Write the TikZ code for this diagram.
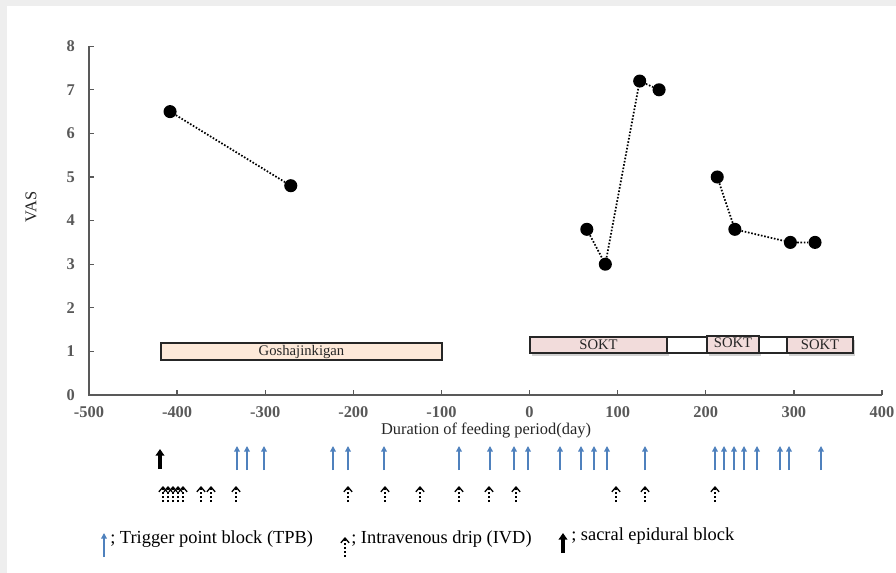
\documentclass[tikz,border=0pt]{standalone}
\usepackage{fontspec}
\setmainfont{Liberation Serif}
\usetikzlibrary{arrows.meta}

\definecolor{axisgray}{HTML}{595959}
\definecolor{tpbblue}{HTML}{4F81BD}
\definecolor{goshafill}{HTML}{FDE9D9}
\definecolor{soktfill}{HTML}{F2DCDB}
\definecolor{framegray}{HTML}{EEEEEE}
\definecolor{textdark}{HTML}{262626}

\begin{document}
\begin{tikzpicture}[x=0.75pt,y=-0.75pt,
  axisline/.style={draw=axisgray, line width=1.4pt},
  tickmark/.style={draw=axisgray, line width=1pt},
  ticklabel/.style={font=\fontsize{12.3}{14}\bfseries\selectfont, text=axisgray, inner sep=0pt},
  axistitle/.style={font=\fontsize{12.3}{14}\selectfont, text=textdark, inner sep=0pt},
  datapt/.style={circle, fill=black, minimum size=9.8pt, inner sep=0pt},
  trend/.style={draw=black, line width=1.3pt, dash pattern=on 1.2pt off 1.3pt},
  barbox/.style={draw=black!85, line width=0.8pt},
  barlabel/.style={font=\fontsize{11}{13}\selectfont, text=textdark, inner sep=0pt},
  barshadow/.style={fill=black, opacity=0.18},
  tpb/.style={draw=tpbblue, line width=1pt, -{Triangle[width=4.2pt,length=4.2pt]}},
  ivd/.style={draw=black, line width=0.95pt, dash pattern=on 1.8pt off 1.2pt,
              -{Straight Barb[width=6.2pt,length=3.6pt,line width=1pt]}},
  sacral/.style={draw=black, line width=2.3pt, -{Triangle[width=6.5pt,length=5pt]}},
  legendtext/.style={font=\fontsize{13.8}{16}\selectfont, text=black, inner sep=0pt, anchor=base west}
]
\useasboundingbox (0,0) rectangle (896,573);
% page ground with the thin grey frame on the left and top
\fill[framegray] (0,0) rectangle (896,573);
\fill[white] (7,6) rectangle (896,573);

% ---- axes ----
\draw[axisline] (89,46) -- (89,395) -- (882,395);
\foreach \v in {0,...,8} {
  \pgfmathsetmacro{\py}{395-43.6*\v}
  \draw[tickmark] (89,\py) -- (94,\py);
  \node[ticklabel, anchor=east] (ylab\v) at (75,\py) {\v};
}
\foreach \d in {-500,-400,...,400} {
  \pgfmathsetmacro{\px}{529.55+0.8811*\d}
  \draw[tickmark] (\px,395) -- (\px,390);
  \node[ticklabel] (xlab\d) at (\px,412) {\d};
}
\node[axistitle, rotate=90] (vastitle) at (31,207) {VAS};
\node[axistitle] (daytitle) at (486,430) {Duration of feeding period(day)};

% ---- treatment periods ----
\draw[barbox, fill=goshafill] (161,343) rectangle (442,360);
\node[barlabel] (gosha) at (301.5,351.5) {Goshajinkigan};

\fill[barshadow] (531.5,340) rectangle (669,356.5);
\fill[barshadow] (708.5,340) rectangle (761,356.5);
\fill[barshadow] (788.5,340) rectangle (855,356.5);
\draw[barbox, fill=soktfill] (530,337) rectangle (667,353);
\draw[barbox, fill=white] (667,337) rectangle (707,353);
\draw[barbox, fill=soktfill] (707,336) rectangle (759,353);
\draw[barbox, fill=white] (759,337) rectangle (787,353);
\draw[barbox, fill=soktfill] (787,337) rectangle (853,353);
\node[barlabel] (sokta) at (598.5,345) {SOKT};
\node[barlabel] (soktb) at (733,343) {SOKT};
\node[barlabel] (soktc) at (820,345) {SOKT};

% ---- VAS scores ----
\begin{scope}[shift={(529.55,395)}, xscale=0.8811, yscale=-43.6]
  \node[datapt] (p1) at (-408,6.5) {};
  \node[datapt] (p2) at (-271,4.8) {};
  \node[datapt] (p3) at (65,3.8) {};
  \node[datapt] (p4) at (86,3.0) {};
  \node[datapt] (p5) at (125,7.2) {};
  \node[datapt] (p6) at (147,7.0) {};
  \node[datapt] (p7) at (213,5.0) {};
  \node[datapt] (p8) at (233,3.8) {};
  \node[datapt] (p9) at (296,3.5) {};
  \node[datapt] (p10) at (324,3.5) {};
\end{scope}
\draw[trend] (p1) -- (p2);
\draw[trend] (p3) -- (p4) -- (p5) -- (p6);
\draw[trend] (p7) -- (p8) -- (p9) -- (p10);

% ---- interventions ----
\draw[sacral] (160,469) -- (160,449);
\foreach \x in {237,247,264,333,348,384,459,490,514,528,560,581,594,607,645,715,724,734,744,757,780,789,821}
  \draw[tpb] (\x,470) -- (\x,446);
\foreach \x in {163,168,173,178,183,201,211,236,348,385,420,459,489,516,616,645,715}
  \draw[ivd] (\x,502) -- (\x,486);

% ---- legend ----
\draw[tpb] (104,557) -- (104,533);
\node[legendtext] (legtpb) at (110,543) {; Trigger point block (TPB)};
\draw[ivd] (345,557) -- (345,537);
\node[legendtext] (legivd) at (351,543) {; Intravenous drip (IVD)};
\draw[sacral] (563,553) -- (563,533);
\node[legendtext] (legsac) at (571,540) {; sacral epidural block};
\end{tikzpicture}
\end{document}
